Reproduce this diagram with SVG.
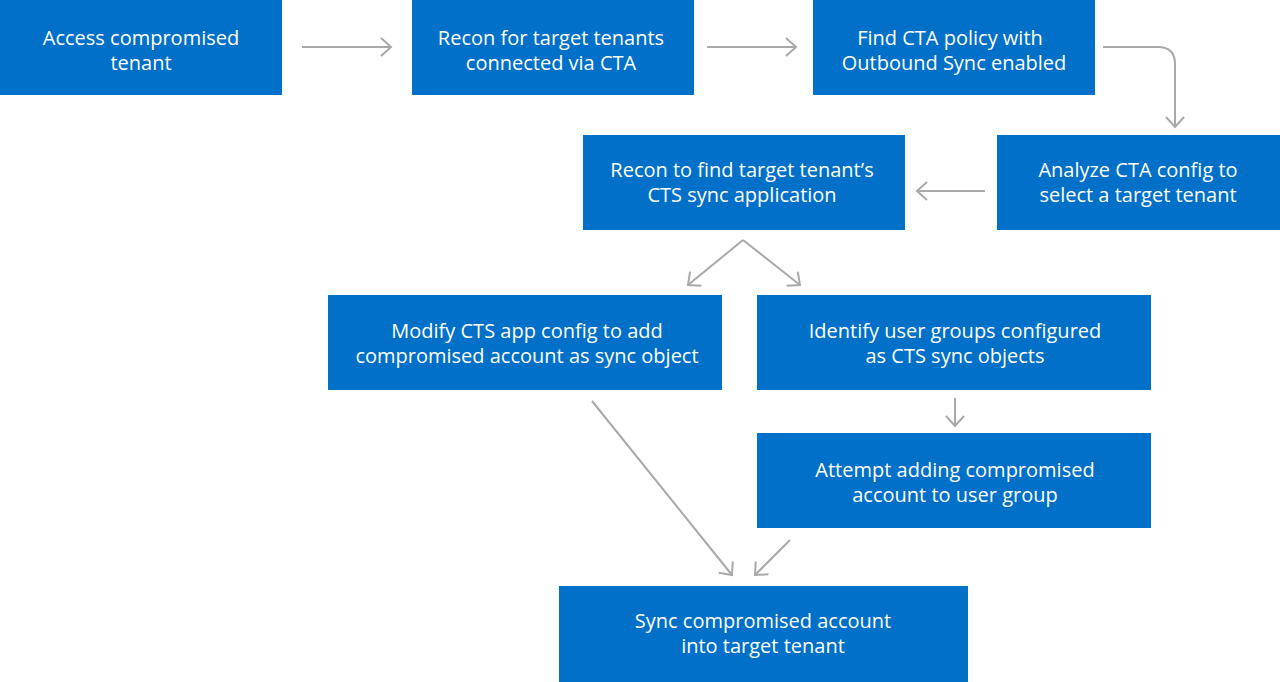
<svg xmlns="http://www.w3.org/2000/svg" width="1280" height="682" viewBox="0 0 1280 682">
<defs>
<style>
.box{fill:#0070C9}
.t{fill:#fff;font-family:"Open Sans","Noto Sans",sans-serif;font-size:20px;text-anchor:middle}
.c{fill:none;stroke:#A9A9A9;stroke-width:2}
</style>
<marker id="ah" viewBox="0 0 20 20" refX="18" refY="10" markerWidth="20" markerHeight="20" markerUnits="userSpaceOnUse" orient="auto">
<path d="M8,1 L18,10 L8,19" fill="none" stroke="#A9A9A9" stroke-width="2"/>
</marker>
</defs>
<rect width="1280" height="682" fill="#fff"/>
<g id="n1"><rect class="box" x="0" y="0" width="282" height="95"/><text class="t" x="141" y="45">Access compromised</text><text class="t" x="141" y="70">tenant</text></g>
<g id="n2"><rect class="box" x="412" y="0" width="282" height="95"/><text class="t" x="551" y="45">Recon for target tenants</text><text class="t" x="551" y="70">connected via CTA</text></g>
<g id="n3"><rect class="box" x="813" y="0" width="282" height="95"/><text class="t" x="950" y="45">Find CTA policy with</text><text class="t" x="954" y="70">Outbound Sync enabled</text></g>
<g id="n4"><rect class="box" x="997" y="135" width="283" height="95"/><text class="t" x="1138" y="177">Analyze CTA config to</text><text class="t" x="1138" y="202">select a target tenant</text></g>
<g id="n5"><rect class="box" x="583" y="135" width="322" height="95"/><text class="t" x="742" y="177">Recon to find target tenant’s</text><text class="t" x="742" y="202">CTS sync application</text></g>
<g id="n6"><rect class="box" x="328" y="295" width="394" height="95"/><text class="t" x="527" y="338">Modify CTS app config to add</text><text class="t" x="527" y="363">compromised account as sync object</text></g>
<g id="n7"><rect class="box" x="757" y="295" width="394" height="95"/><text class="t" x="955" y="338">Identify user groups configured</text><text class="t" x="955" y="363">as CTS sync objects</text></g>
<g id="n8"><rect class="box" x="757" y="433" width="394" height="95"/><text class="t" x="955" y="477">Attempt adding compromised</text><text class="t" x="955" y="502">account to user group</text></g>
<g id="n9"><rect class="box" x="559" y="586" width="409" height="96"/><text class="t" x="763" y="628">Sync compromised account</text><text class="t" x="763" y="653">into target tenant</text></g>
<g id="connectors">
<path class="c" d="M302,47 H391" marker-end="url(#ah)"/>
<path class="c" d="M707,47 H796" marker-end="url(#ah)"/>
<path class="c" d="M1103,47 H1158 Q1175,47 1175,64 V127" marker-end="url(#ah)"/>
<path class="c" d="M985,191 H917" marker-end="url(#ah)"/>
<path class="c" d="M743,240 L688,285" marker-end="url(#ah)"/>
<path class="c" d="M743,240 L800,285" marker-end="url(#ah)"/>
<path class="c" d="M955,398 V426" marker-end="url(#ah)"/>
<path class="c" d="M592,401 L732,575" marker-end="url(#ah)"/>
<path class="c" d="M790,540 L755,575" marker-end="url(#ah)"/>
</g>
</svg>
